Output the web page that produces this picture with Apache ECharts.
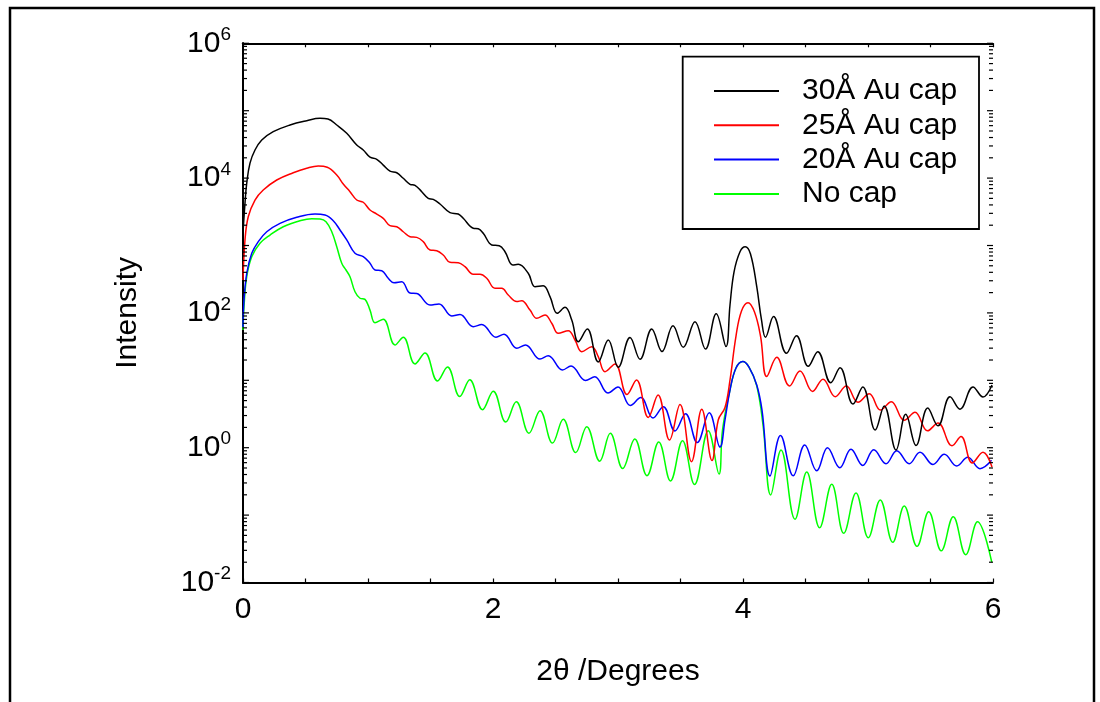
<!DOCTYPE html>
<html><head><meta charset="utf-8">
<script src="https://cdn.jsdelivr.net/npm/echarts@6/dist/echarts.min.js"></script>
<style>html,body{margin:0;padding:0;background:#fff}#chart{width:1100px;height:702px}</style>
</head><body><div id="chart"></div>
<script>
const FONT = '"Liberation Sans", Arial, Helvetica, sans-serif';
const seriesNames = ['30Å Au cap', '25Å Au cap', '20Å Au cap', 'No cap'];
const seriesColors = ['#000000', '#ff0000', '#0000ff', '#00ff00'];
const xLabelValues = [0, 2, 4, 6];
const yLabelExponents = [-2, 0, 2, 4, 6];
const xTitle = '2θ /Degrees';
const yTitle = 'Intensity';

// [2θ (degrees), intensity]
const cap30 = [[0,1580],[0.016,4280],[0.030,8450],[0.056,16700],[0.096,26100],[0.150,36700],[0.242,48800],[0.376,61400],[0.510,71100],[0.616,77100],[0.680,75300],[0.750,61400],[0.830,46200],[0.910,31000],[0.962,26100],[1.016,20400],[1.070,19000],[1.122,15600],[1.176,12700],[1.230,12000],[1.282,9930],[1.336,8090],[1.376,7820],[1.430,6280],[1.482,5010],[1.522,4840],[1.576,4130],[1.656,3070],[1.722,2930],[1.762,2530],[1.842,1800],[1.882,1770],[1.922,1520],[1.990,1020],[2.050,993],[2.096,809],[2.158,514],[2.202,526],[2.282,387],[2.336,245],[2.402,253],[2.456,174],[2.514,98.6],[2.576,121],[2.630,78.5],[2.682,37.4],[2.754,57.7],[2.842,18.7],[2.922,39.6],[3.002,15.6],[3.096,43.2],[3.176,20.5],[3.270,57.7],[3.352,26.7],[3.440,64.4],[3.522,30.9],[3.616,74.0],[3.700,29.1],[3.786,97.0],[3.864,31.7],[3.896,131],[3.928,404],[3.976,809],[4.018,960],[4.060,748],[4.110,245],[4.148,78.5],[4.180,43.5],[4.244,88.5],[4.348,25.2],[4.428,45.9],[4.522,16.1],[4.598,26.6],[4.702,9.21],[4.776,15.4],[4.880,4.45],[4.958,7.96],[5.058,1.83],[5.130,4.16],[5.224,0.925],[5.302,3.13],[5.384,1.08],[5.478,3.88],[5.560,2.11],[5.656,5.71],[5.736,3.73],[5.840,7.96],[5.920,5.65],[5.992,8.51]];

const cap25 = [[0,308],[0.016,1210],[0.042,2670],[0.096,4730],[0.162,6650],[0.270,9370],[0.402,12000],[0.510,14000],[0.602,15100],[0.674,14500],[0.750,11100],[0.802,8170],[0.856,6280],[0.910,4730],[0.962,4380],[1.016,3360],[1.070,2930],[1.122,2530],[1.176,1970],[1.230,1900],[1.282,1600],[1.336,1350],[1.390,1320],[1.442,1140],[1.496,857],[1.550,837],[1.602,723],[1.656,564],[1.722,556],[1.776,485],[1.842,374],[1.896,374],[1.950,326],[2.016,232],[2.070,232],[2.122,184],[2.190,147],[2.230,152],[2.296,110],[2.350,83.2],[2.416,93.1],[2.470,70.1],[2.522,49.8],[2.602,54.4],[2.656,39.6],[2.710,26.6],[2.790,31.5],[2.842,22.4],[2.896,13.4],[2.976,17.5],[3.072,6.15],[3.148,10.1],[3.242,2.81],[3.320,6.05],[3.412,1.30],[3.496,4.38],[3.588,0.620],[3.670,3.72],[3.752,0.646],[3.802,2.58],[3.856,3.95],[3.896,10.1],[3.944,45.4],[3.988,107],[4.040,142],[4.092,103],[4.140,45.4],[4.190,11.4],[4.270,21.9],[4.372,8.23],[4.456,13.7],[4.556,6.82],[4.640,10.4],[4.738,5.71],[4.826,8.23],[4.920,4.73],[5.010,6.32],[5.100,3.62],[5.186,4.81],[5.290,2.55],[5.376,3.36],[5.476,1.78],[5.560,2.32],[5.672,1.07],[5.744,1.46],[5.834,0.593],[5.920,0.855],[5.992,0.517]];

const cap20 = [[0,61.8],[0.008,155],[0.030,387],[0.070,766],[0.122,1140],[0.190,1600],[0.296,2130],[0.430,2620],[0.576,2930],[0.656,2840],[0.722,2330],[0.776,1700],[0.830,1210],[0.896,766],[0.962,682],[1.016,545],[1.056,433],[1.110,423],[1.162,326],[1.208,281],[1.270,290],[1.336,197],[1.390,194],[1.496,131],[1.568,136],[1.670,89.9],[1.736,94.6],[1.842,62.4],[1.910,67.3],[2.024,43.5],[2.088,48.3],[2.190,29.9],[2.260,33.4],[2.376,20.7],[2.442,23.1],[2.556,14.2],[2.624,16.3],[2.740,9.93],[2.814,11.3],[2.920,6.48],[3.000,7.96],[3.098,4.23],[3.182,5.56],[3.280,2.76],[3.362,4.06],[3.456,1.77],[3.540,3.19],[3.634,1.19],[3.730,3.30],[3.816,1.02],[3.856,2.58],[3.896,7.18],[3.944,15.2],[3.998,19.0],[4.048,15.7],[4.110,8.51],[4.152,3.62],[4.216,0.380],[4.300,1.52],[4.402,0.383],[4.494,1.10],[4.590,0.454],[4.676,1.00],[4.774,0.505],[4.864,0.951],[4.958,0.545],[5.046,0.934],[5.144,0.579],[5.230,0.902],[5.330,0.579],[5.416,0.858],[5.520,0.563],[5.610,0.798],[5.710,0.535],[5.798,0.721],[5.896,0.488],[5.988,0.650]];

const noCap = [[0,55.7],[0.008,124],[0.030,344],[0.070,682],[0.136,1080],[0.216,1430],[0.322,1900],[0.456,2330],[0.550,2500],[0.616,2470],[0.664,2250],[0.710,1600],[0.750,960],[0.790,545],[0.824,433],[0.856,344],[0.896,206],[0.936,165],[0.976,159],[1.016,110],[1.056,71.6],[1.122,80.4],[1.216,33.4],[1.282,43.5],[1.376,17.5],[1.456,25.4],[1.556,9.77],[1.636,15.7],[1.734,5.75],[1.814,10.2],[1.916,3.66],[2.002,6.89],[2.102,2.40],[2.186,4.81],[2.288,1.64],[2.376,3.54],[2.476,1.17],[2.562,2.64],[2.662,0.846],[2.750,2.05],[2.854,0.631],[2.938,1.64],[3.038,0.491],[3.134,1.35],[3.232,0.384],[3.326,1.22],[3.420,0.321],[3.516,1.27],[3.612,0.284],[3.722,1.79],[3.808,0.407],[3.836,1.83],[3.896,7.18],[3.944,15.2],[3.998,19.0],[4.048,15.7],[4.110,8.30],[4.160,2.17],[4.222,0.199],[4.304,0.925],[4.416,0.0869],[4.510,0.436],[4.613,0.0648],[4.710,0.286],[4.806,0.0537],[4.904,0.213],[5.002,0.0462],[5.098,0.168],[5.198,0.0395],[5.290,0.136],[5.392,0.0344],[5.486,0.112],[5.586,0.0295],[5.682,0.0947],[5.782,0.0259],[5.876,0.0798],[5.990,0.0200]];

const seriesData = [cap30, cap25, cap20, noCap];

// log-axis tick positions (1..9 x each decade) for the inner tick marks
const yTicks = [];
for (let e = -2; e < 6; e++) for (let m = 1; m < 10; m++) yTicks.push([0, m * Math.pow(10, e), m]);
yTicks.push([0, 1e6, 1]);

const chart = echarts.init(document.getElementById('chart'));

const axisLineStyle = { color: '#000', width: 2 };
const option = {
  animation: false,
  backgroundColor: '#fff',
  grid: { left: 243, right: 107, top: 43.3, bottom: 119.5, containLabel: false },
  xAxis: [
    {
      type: 'value', min: 0, max: 6, interval: 0.5, position: 'bottom',
      name: xTitle, nameLocation: 'middle', nameGap: 74,
      nameTextStyle: { fontSize: 30, fontFamily: FONT, color: '#000' },
      axisLine: { show: true, lineStyle: axisLineStyle },
      axisTick: { show: true, inside: true, length: 4, lineStyle: { color: '#000', width: 1.2 } },
      axisLabel: {
        margin: 12, fontSize: 30, fontFamily: FONT, color: '#000',
        formatter: v => (xLabelValues.indexOf(v) >= 0 ? String(v) : '')
      },
      splitLine: { show: false }
    },
    {
      type: 'value', min: 0, max: 6, interval: 0.5, position: 'top',
      axisLine: { show: true, lineStyle: axisLineStyle },
      axisTick: { show: true, inside: true, length: 4, lineStyle: { color: '#000', width: 1.2 } },
      axisLabel: { show: false }, splitLine: { show: false }
    }
  ],
  yAxis: [
    {
      type: 'log', logBase: 10, min: 0.01, max: 1e6, splitNumber: 4, position: 'left',
      name: yTitle, nameLocation: 'middle', nameGap: 100, nameRotate: 90,
      nameTextStyle: { fontSize: 30, fontFamily: FONT, color: '#000' },
      axisLine: { show: true, lineStyle: axisLineStyle },
      axisTick: { show: false },
      axisLabel: {
        margin: 12, color: '#000',
        formatter: v => {
          const e = Math.round(Math.log10(v));
          if (yLabelExponents.indexOf(e) < 0) return '';
          return '{b|10}{s|' + e + '}';
        },
        rich: {
          b: { fontSize: 30, lineHeight: 30, fontFamily: FONT, color: '#000', verticalAlign: 'bottom' },
          s: { fontSize: 19, lineHeight: 19, fontFamily: FONT, color: '#000', verticalAlign: 'bottom', padding: [0, 0, 14, 0] }
        }
      },
      splitLine: { show: false }
    },
    {
      type: 'log', logBase: 10, min: 0.01, max: 1e6, position: 'right',
      axisLine: { show: true, lineStyle: axisLineStyle },
      axisTick: { show: false }, axisLabel: { show: false }, splitLine: { show: false }
    }
  ],
  legend: {
    data: seriesNames, orient: 'vertical', left: 714, top: 76, padding: 0, z: 20,
    icon: 'rect', itemWidth: 65, itemHeight: 2, itemGap: 4.3,
    textStyle: { fontSize: 30, lineHeight: 30, fontFamily: FONT, color: '#000', padding: [0, 0, 0, 18] }
  },
  graphic: [
    { type: 'rect', shape: { x: 10, y: 8, width: 1084, height: 720 }, style: { fill: 'none', stroke: '#000', lineWidth: 2.5 }, silent: true, z: 1 },
    { type: 'rect', shape: { x: 682.7, y: 56.7, width: 296.3, height: 172.3 }, style: { fill: 'none', stroke: '#000', lineWidth: 1.8 }, silent: true, z: 1 }
  ],
  series: seriesNames.map((name, i) => ({
    name: name, type: 'line', data: seriesData[i],
    xAxisIndex: 0, yAxisIndex: 0,
    showSymbol: false, symbol: 'none', smooth: 0.4,
    lineStyle: { color: seriesColors[i], width: 1.5 },
    itemStyle: { color: seriesColors[i] },
    z: 3 + (3 - i)
  })).concat([{
    type: 'custom', name: 'yticks', silent: true, clip: false,
    xAxisIndex: 0, yAxisIndex: 0, data: yTicks, encode: { x: 0, y: 1 }, z: 10,
    renderItem: (params, api) => {
      const v = api.value(1), m = api.value(2);
      const len = m === 1 ? 6 : 4;
      const L = api.coord([0, v]), R = api.coord([6, v]);
      return { type: 'group', children: [
        { type: 'line', shape: { x1: L[0], y1: L[1], x2: L[0] + len, y2: L[1] }, style: { stroke: '#000', lineWidth: 1.2 } },
        { type: 'line', shape: { x1: R[0], y1: R[1], x2: R[0] - len, y2: R[1] }, style: { stroke: '#000', lineWidth: 1.2 } }
      ] };
    }
  }])
};
chart.setOption(option);
</script>
</body></html>
